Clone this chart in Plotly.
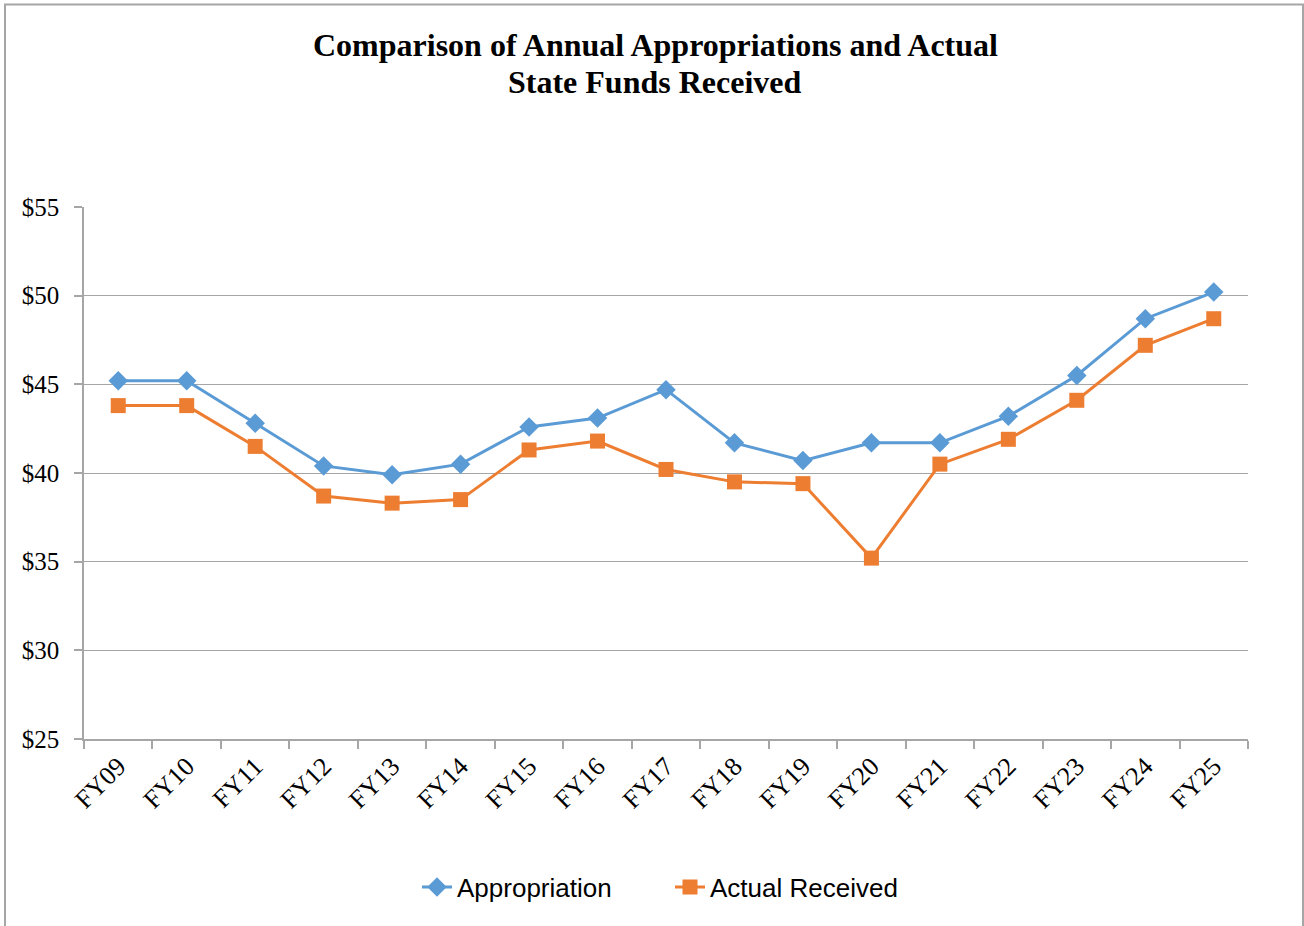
import plotly.graph_objects as go

categories = ["FY09", "FY10", "FY11", "FY12", "FY13", "FY14", "FY15", "FY16", "FY17",
              "FY18", "FY19", "FY20", "FY21", "FY22", "FY23", "FY24", "FY25"]
appropriation = [45.2, 45.2, 42.8, 40.4, 39.9, 40.5, 42.6, 43.1, 44.7,
                 41.7, 40.7, 41.7, 41.7, 43.2, 45.5, 48.7, 50.2]
actual_received = [43.8, 43.8, 41.5, 38.7, 38.3, 38.5, 41.3, 41.8, 40.2,
                   39.5, 39.4, 35.2, 40.5, 41.9, 44.1, 47.2, 48.7]
title_lines = ["Comparison of Annual Appropriations and Actual", "State Funds Received"]

BLUE = "#5B9BD5"
ORANGE = "#ED7D31"
GRID = "#A6A6A6"
SERIF = "Liberation Serif, Times New Roman, serif"
SANS = "Liberation Sans, Arial, sans-serif"

W, H = 1304, 926
L, R, T, B = 84, 56, 207, 187
PW, PH = W - L - R, H - T - B


def px_x(p):
    return (p - L) / PW


def px_y(p):
    return (H - B - p) / PH


fig = go.Figure()
fig.add_trace(go.Scatter(
    x=categories, y=appropriation, name="Appropriation", mode="lines+markers",
    line=dict(color=BLUE, width=3),
    marker=dict(symbol="diamond", size=15, color=BLUE),
))
fig.add_trace(go.Scatter(
    x=categories, y=actual_received, name="Actual Received", mode="lines+markers",
    line=dict(color=ORANGE, width=3),
    marker=dict(symbol="square", size=15, color=ORANGE),
))

fig.update_layout(
    width=W, height=H,
    margin=dict(l=L, r=R, t=T, b=B),
    paper_bgcolor="white", plot_bgcolor="white",
    showlegend=True,
    legend=dict(
        orientation="h", x=px_x(670), xanchor="center", y=px_y(887), yanchor="middle",
        font=dict(family=SANS, size=26, color="black"),
        bgcolor="rgba(0,0,0,0)",
        entrywidth=208, entrywidthmode="pixels",
    ),
    font=dict(family=SERIF, color="black"),
)

for i, (txt, py) in enumerate(zip(title_lines, [45, 82])):
    fig.add_annotation(
        text=f"<b>{txt}</b>", xref="paper", yref="paper",
        x=px_x(655), y=px_y(py), xanchor="center", yanchor="middle",
        showarrow=False, font=dict(family=SERIF, size=32, color="black"),
    )

fig.update_xaxes(
    type="category", range=[-0.5, 16.5],
    showline=True, linecolor=GRID, linewidth=1.5,
    ticks="outside", tickson="boundaries", ticklen=8, tickcolor=GRID, tickwidth=1.5,
    tickangle=-45, showgrid=False,
    tickfont=dict(family=SERIF, size=26, color="black"),
)
fig.update_yaxes(
    range=[25, 55], dtick=5, tick0=25, tickprefix="$",
    showline=True, linecolor=GRID, linewidth=1.5,
    ticks="outside", ticklen=8, tickcolor=GRID, tickwidth=1.5,
    ticklabelstandoff=10,
    showgrid=True, gridcolor=GRID, gridwidth=1, zeroline=False,
    tickfont=dict(family=SERIF, size=25, color="black"),
)

# outer chart frame
fig.add_shape(type="rect", xref="paper", yref="paper",
              x0=px_x(5), x1=px_x(1303), y0=px_y(960), y1=px_y(4.5),
              line=dict(color="#A6A6A6", width=2), fillcolor="rgba(0,0,0,0)", layer="below")

fig.write_html("out.html", config={"displayModeBar": False},
               post_script="document.body.style.margin='0px';")
